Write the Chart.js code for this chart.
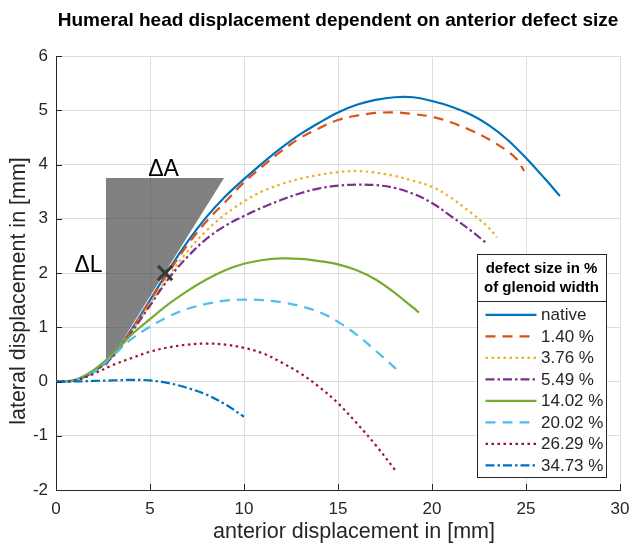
<!DOCTYPE html>
<html>
<head>
<meta charset="utf-8">
<script src="https://cdn.jsdelivr.net/npm/chart.js@4.4.1/dist/chart.umd.min.js"></script>
<style>
  body { margin: 0; background: #fff; }
</style>
</head>
<body>
<canvas id="chart" width="633" height="543"></canvas>
<script>
// --- DATA ---

const seriesLabels = ["native", "1.40 %", "3.76 %", "5.49 %", "14.02 %", "20.02 %", "26.29 %", "34.73 %"];

const nativeX = [0, 1, 2, 3, 4, 5, 6, 7, 8, 9, 10, 11, 12, 13, 14, 15, 16, 17, 18, 19, 20, 21, 22, 23, 24, 25, 26, 26.8];
const nativeY = [0, 0.02, 0.18, 0.47, 0.95, 1.5, 2.06, 2.58, 3.03, 3.41, 3.73, 4.03, 4.31, 4.56, 4.77, 4.96, 5.1, 5.19, 5.24, 5.24, 5.17, 5.07, 4.93, 4.73, 4.46, 4.12, 3.74, 3.42];

const d140X = [0, 1, 2, 3, 4, 5, 6, 7, 8, 9, 10, 11, 12, 13, 14, 15, 16, 17, 18, 19, 20, 21, 22, 23, 24, 24.5, 24.9];
const d140Y = [0, 0.02, 0.18, 0.47, 0.95, 1.48, 2.02, 2.52, 2.95, 3.31, 3.67, 3.97, 4.25, 4.49, 4.67, 4.82, 4.9, 4.95, 4.96, 4.93, 4.88, 4.78, 4.64, 4.47, 4.25, 4.1, 3.88];

const d376X = [0, 1, 2, 3, 4, 5, 6, 7, 8, 9, 10, 11, 12, 13, 14, 15, 16, 17, 18, 19, 20, 21, 22, 23, 23.45];
const d376Y = [0, 0.02, 0.18, 0.46, 0.92, 1.43, 1.95, 2.4, 2.78, 3.08, 3.32, 3.51, 3.64, 3.74, 3.81, 3.86, 3.88, 3.85, 3.79, 3.7, 3.59, 3.39, 3.13, 2.84, 2.66];

const d549X = [0, 1, 2, 3, 4, 5, 6, 7, 8, 9, 10, 11, 12, 13, 14, 15, 16, 17, 18, 19, 20, 21, 22, 22.9];
const d549Y = [0, 0.02, 0.18, 0.45, 0.9, 1.4, 1.9, 2.3, 2.63, 2.87, 3.05, 3.21, 3.35, 3.47, 3.56, 3.61, 3.63, 3.62, 3.57, 3.46, 3.29, 3.05, 2.8, 2.55];

const d1402X = [0, 1, 2, 3, 4, 5, 6, 7, 8, 9, 10, 11, 12, 13, 14, 15, 16, 17, 18, 19, 19.3];
const d1402Y = [0, 0.03, 0.21, 0.5, 0.86, 1.15, 1.43, 1.67, 1.88, 2.05, 2.17, 2.24, 2.27, 2.26, 2.22, 2.16, 2.05, 1.88, 1.64, 1.36, 1.27];

const d2002X = [0, 1, 2, 3, 4, 5, 6, 7, 8, 9, 10, 11, 12, 13, 14, 15, 16, 17, 18, 18.1];
const d2002Y = [0, 0.02, 0.17, 0.47, 0.78, 1.01, 1.2, 1.34, 1.43, 1.49, 1.51, 1.5, 1.46, 1.39, 1.28, 1.1, 0.86, 0.57, 0.26, 0.23];

const d2629X = [0, 1, 2, 3, 4, 5, 6, 7, 8, 9, 10, 11, 12, 13, 14, 15, 16, 17, 18.1];
const d2629Y = [0, 0.02, 0.14, 0.3, 0.43, 0.55, 0.63, 0.68, 0.7, 0.68, 0.62, 0.52, 0.35, 0.15, -0.1, -0.4, -0.77, -1.17, -1.66];

const d3473X = [0, 1, 2, 3, 4, 5, 6, 7, 8, 9, 10];
const d3473Y = [0, 0, 0.01, 0.02, 0.03, 0.02, -0.03, -0.12, -0.24, -0.42, -0.65];

// shaded tangent triangle and the marked point on it
const triangleX = [2.66, 8.94, 2.66];
const triangleY = [3.75, 3.75, 0.27];
const tangentPoint = { x: 5.8, y: 2.0 };

const xTicks = [0, 30, 5]; //  min, max, step
const yTicks = [-2, 6, 1];

const titleText = "Humeral head displacement dependent on anterior defect size";
const xTitle = "anterior displacement in [mm]";
const yTitle = "lateral displacement in [mm]";
const legendHeader = ["defect size in %", "of glenoid width"];
const annotations = [
  { text: "\u0394A", x: 5.72, y: 3.9 },
  { text: "\u0394L", x: 1.73, y: 2.14 },
];

// --- STYLE ---

const FONT = "'Liberation Sans', Arial, Helvetica, sans-serif";
const AXIS_COLOR = "#262626";
const GRID_COLOR = "#dedede";

const seriesX = [nativeX, d140X, d376X, d549X, d1402X, d2002X, d2629X, d3473X];
const seriesY = [nativeY, d140Y, d376Y, d549Y, d1402Y, d2002Y, d2629Y, d3473Y];
const colors = ["#0072BD", "#D95319", "#EDB120", "#7E2F8E", "#77AC30", "#4DBEEE", "#A2142F", "#0072BD"];
const dashes = [[], [10, 7], [2.5, 3.5], [9, 3, 2.5, 3], [], [10, 7], [2.5, 3.5], [9, 3, 2.5, 3]];

function toPoints(xs, ys) {
  return xs.map((x, i) => ({ x: x, y: ys[i] }));
}

const curveSets = seriesLabels.map((label, i) => ({
  label: label,
  data: toPoints(seriesX[i], seriesY[i]),
  borderColor: colors[i],
  backgroundColor: colors[i],
  borderWidth: 2.2,
  borderDash: dashes[i],
  pointRadius: 0,
  showLine: true,
  tension: 0.35,
  order: seriesLabels.length - i,
  inLegend: true,
}));

const datasets = [
  {
    label: "point",
    data: [tangentPoint],
    pointStyle: "crossRot",
    pointRadius: 10,
    borderColor: "#383838",
    borderWidth: 3,
    showLine: false,
    order: 0,
  },
  ...curveSets,
  {
    label: "triangle",
    data: toPoints(triangleX, triangleY),
    showLine: true,
    fill: "shape",
    borderWidth: 0,
    borderColor: "rgba(0,0,0,0)",
    backgroundColor: "rgba(58,58,58,0.64)",
    pointRadius: 0,
    order: 20,
  },
];

// --- PLUGINS ---

// MATLAB style tick marks pointing into the axes
const innerTicks = {
  id: "innerTicks",
  afterDatasetsDraw(chart) {
    const { ctx, chartArea, scales } = chart;
    ctx.save();
    ctx.strokeStyle = AXIS_COLOR;
    ctx.lineWidth = 1;
    ctx.beginPath();
    scales.x.ticks.forEach((t) => {
      const px = Math.round(scales.x.getPixelForValue(t.value)) + 0.5;
      ctx.moveTo(px, chartArea.bottom);
      ctx.lineTo(px, chartArea.bottom - 6);
    });
    scales.y.ticks.forEach((t) => {
      const py = Math.round(scales.y.getPixelForValue(t.value)) + 0.5;
      ctx.moveTo(chartArea.left, py);
      ctx.lineTo(chartArea.left + 6, py);
    });
    ctx.stroke();
    ctx.restore();
  },
};

// chart title, axis titles and the delta labels
const textLabels = {
  id: "textLabels",
  afterDraw(chart) {
    const { ctx, scales, chartArea } = chart;
    const midX = (chartArea.left + chartArea.right) / 2;
    const midY = (chartArea.top + chartArea.bottom) / 2;
    ctx.save();
    ctx.textAlign = "center";
    ctx.textBaseline = "alphabetic";

    ctx.fillStyle = "#000";
    ctx.font = "bold 19px " + FONT;
    ctx.fillText(titleText, midX, 26);

    ctx.fillStyle = AXIS_COLOR;
    ctx.font = "21.5px " + FONT;
    ctx.fillText(xTitle, midX + 16, chartArea.bottom + 48);
    ctx.save();
    ctx.translate(25, midY + 18);
    ctx.rotate(-Math.PI / 2);
    ctx.fillText(yTitle, 0, 0);
    ctx.restore();

    ctx.fillStyle = "#000";
    ctx.font = "23px " + FONT;
    ctx.textBaseline = "middle";
    annotations.forEach((a) => {
      ctx.fillText(a.text, scales.x.getPixelForValue(a.x), scales.y.getPixelForValue(a.y));
    });
    ctx.restore();
  },
};

// boxed legend with a two line bold header, lower right inside the axes
const boxLegend = {
  id: "boxLegend",
  afterDraw(chart) {
    const { ctx, chartArea } = chart;
    const items = chart.data.datasets.filter((d) => d.inLegend);
    const w = 129;
    const headH = 47.5;
    const rowH = 21.5;
    const h = headH + 13.6 + rowH * (items.length - 1) + 11.7;
    const right = chartArea.right - 14;
    const bottom = chartArea.bottom - 13;
    const left = right - w;
    const top = bottom - h;

    ctx.save();
    ctx.fillStyle = "#fff";
    ctx.fillRect(left, top, w, h);
    ctx.strokeStyle = AXIS_COLOR;
    ctx.lineWidth = 1;
    ctx.strokeRect(Math.round(left) + 0.5, Math.round(top) + 0.5, Math.round(w), Math.round(h));
    ctx.beginPath();
    ctx.moveTo(left, Math.round(top + headH) + 0.5);
    ctx.lineTo(left + w, Math.round(top + headH) + 0.5);
    ctx.stroke();

    ctx.fillStyle = "#000";
    ctx.font = "bold 15px " + FONT;
    ctx.textAlign = "center";
    ctx.textBaseline = "middle";
    ctx.fillText(legendHeader[0], left + w / 2, top + 15);
    ctx.fillText(legendHeader[1], left + w / 2, top + 34);

    ctx.font = "17px " + FONT;
    ctx.textAlign = "left";
    items.forEach((d, i) => {
      const y = top + headH + 13.6 + i * rowH;
      ctx.beginPath();
      ctx.setLineDash(d.borderDash);
      ctx.strokeStyle = d.borderColor;
      ctx.lineWidth = d.borderWidth;
      ctx.moveTo(left + 8.5, y);
      ctx.lineTo(left + 59.5, y);
      ctx.stroke();
      ctx.setLineDash([]);
      ctx.fillStyle = AXIS_COLOR;
      ctx.fillText(d.label, left + 64, y + 1);
    });
    ctx.restore();
  },
};

// --- CHART ---

Chart.defaults.font.family = FONT;
Chart.defaults.color = AXIS_COLOR;

new Chart(document.getElementById("chart"), {
  type: "scatter",
  data: { datasets: datasets },
  options: {
    responsive: false,
    animation: false,
    layout: { padding: { left: 0, right: 13, top: 56, bottom: 0 } },
    plugins: {
      legend: { display: false },
      tooltip: { enabled: false },
    },
    scales: {
      x: {
        type: "linear",
        min: xTicks[0],
        max: xTicks[1],
        ticks: { stepSize: xTicks[2], font: { size: 17 }, padding: 9, color: AXIS_COLOR },
        grid: { color: GRID_COLOR, drawTicks: false },
        border: { color: AXIS_COLOR, width: 1 },
        afterFit: (s) => { s.height = 53; s.paddingLeft = 0; s.paddingRight = 0; },
      },
      y: {
        type: "linear",
        min: yTicks[0],
        max: yTicks[1],
        ticks: { stepSize: yTicks[2], font: { size: 17 }, padding: 8, color: AXIS_COLOR },
        grid: { color: GRID_COLOR, drawTicks: false },
        border: { color: AXIS_COLOR, width: 1 },
        afterFit: (s) => { s.width = 56; s.paddingTop = 0; s.paddingBottom = 0; },
      },
    },
  },
  plugins: [innerTicks, textLabels, boxLegend],
});
</script>
</body>
</html>
